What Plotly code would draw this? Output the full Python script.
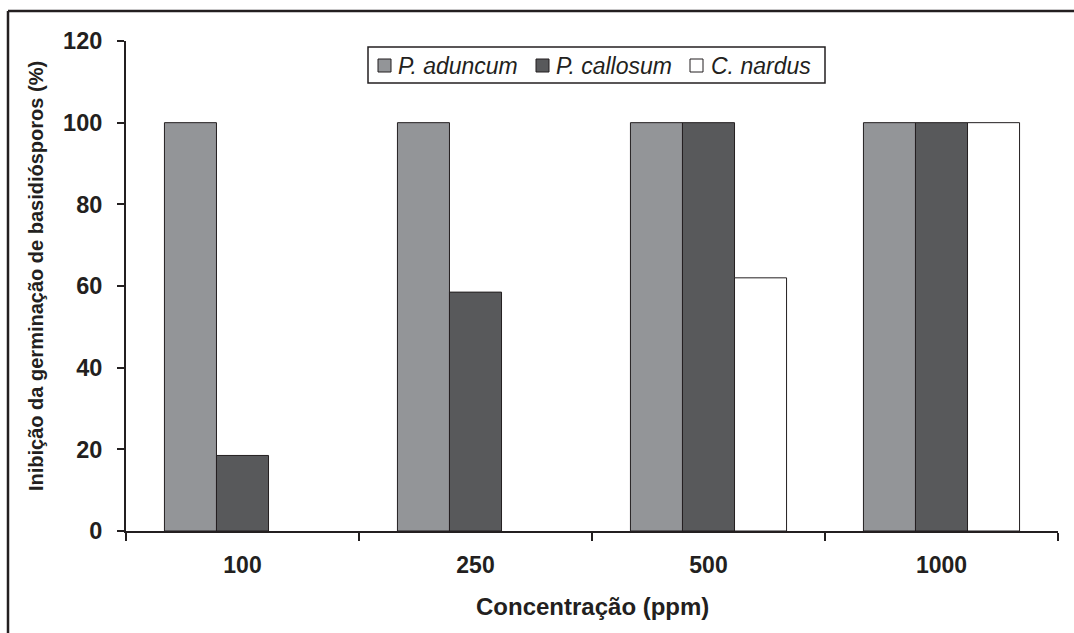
import plotly.graph_objects as go

categories = ["100", "250", "500", "1000"]
p_aduncum = [100, 100, 100, 100]
p_callosum = [18.5, 58.5, 100, 100]
c_nardus = [0, 0, 62, 100]
y_ticks = [0, 20, 40, 60, 80, 100, 120]
series_names = ["P. aduncum", "P. callosum", "C. nardus"]
series_colors = ["#939598", "#58595b", "#ffffff"]

FONT = "Arial, Liberation Sans, sans-serif"
EDGE = "#231f20"

# pixel geometry of the plot area
L, R, T, B = 126, 1058, 41, 531
W, H = R - L, B - T


def px(x):
    return (x - L) / W


def py(y):
    return (B - y) / H


fig = go.Figure()
for name, vals, col in zip(series_names, [p_aduncum, p_callosum, c_nardus], series_colors):
    fig.add_trace(go.Bar(x=categories, y=vals, name=name, showlegend=False,
                         marker=dict(color=col,
                                     line=dict(color=EDGE, width=[1 if v else 0 for v in vals]))))

# manual legend (box, swatches, italic labels)
shapes = [
    dict(type="rect", xref="paper", yref="paper", x0=px(368), x1=px(825), y0=py(83), y1=py(47),
         line=dict(color=EDGE, width=1.5), fillcolor="white", layer="above"),
]
annotations = []
sw_x = [378, 536, 690]
txt_x = [396, 554, 709]
for sx, tx, name, col in zip(sw_x, txt_x, series_names, series_colors):
    shapes.append(dict(type="rect", xref="paper", yref="paper", x0=px(sx), x1=px(sx + 13),
                       y0=py(72), y1=py(59), line=dict(color=EDGE, width=1), fillcolor=col,
                       layer="above"))
    annotations.append(dict(text=f"<i>{name}</i>", xref="paper", yref="paper", x=px(tx), y=py(66),
                            xanchor="left", yanchor="middle", showarrow=False,
                            font=dict(size=23, family=FONT, color=EDGE)))

# outer frame
shapes += [
    dict(type="line", xref="paper", yref="paper", x0=px(8), x1=1.2, y0=py(11), y1=py(11),
         line=dict(color=EDGE, width=2.5)),
    dict(type="line", xref="paper", yref="paper", x0=px(8), x1=px(8), y0=py(11), y1=-0.5,
         line=dict(color=EDGE, width=2.5)),
]

annotations += [
    dict(text="<b>Concentração (ppm)</b>", xref="paper", yref="paper", x=0.5, y=py(606),
         xanchor="center", yanchor="middle", showarrow=False,
         font=dict(size=24, family=FONT, color=EDGE)),
    dict(text="<b>Inibição da germinação de basidiósporos (%)</b>", xref="paper", yref="paper",
         x=px(36), y=py(276), xanchor="center", yanchor="middle", textangle=-90, showarrow=False,
         font=dict(size=20, family=FONT, color=EDGE)),
]

fig.update_layout(
    width=1074, height=633,
    margin=dict(l=L, r=1074 - R, t=T, b=633 - B),
    paper_bgcolor="white", plot_bgcolor="white",
    barmode="group", bargap=0.33, bargroupgap=0,
    font=dict(family=FONT, color=EDGE),
    showlegend=False,
    xaxis=dict(type="category", showline=True, linecolor=EDGE, linewidth=2,
               ticks="outside", tickson="boundaries", ticklen=8, tickwidth=2, tickcolor=EDGE,
               tickfont=dict(size=23, family=FONT, weight="bold"), ticklabelstandoff=12,
               showgrid=False, zeroline=False),
    yaxis=dict(range=[0, 120], tickvals=y_ticks, showline=True, linecolor=EDGE, linewidth=2,
               ticks="outside", ticklen=7, tickwidth=2, tickcolor=EDGE,
               tickfont=dict(size=23.5, family=FONT, weight="bold"), ticklabelstandoff=10,
               showgrid=False, zeroline=False),
    annotations=annotations,
    shapes=shapes,
)

fig.write_html("out.html")
